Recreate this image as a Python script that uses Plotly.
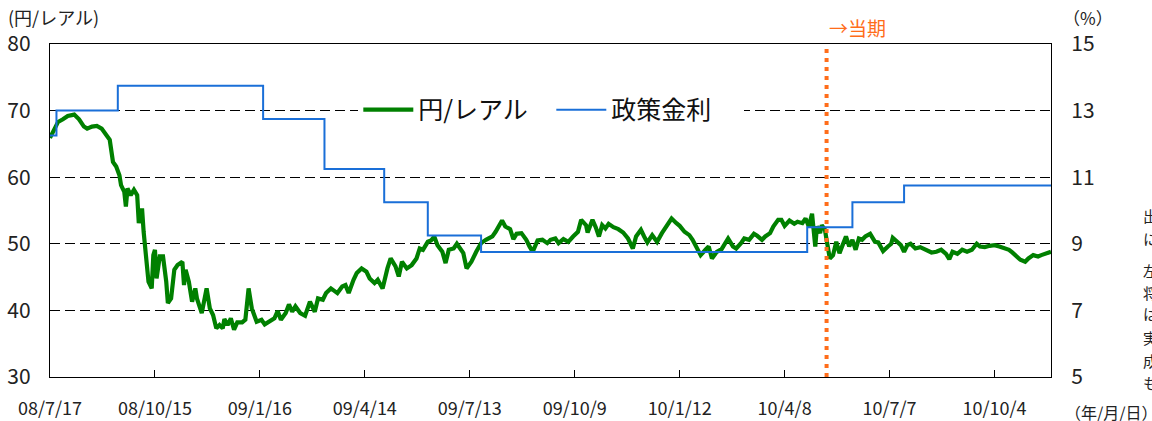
import plotly.graph_objects as go

# --- data (x = business-day index from 2008/7/17) ---
day_index = [0, 2, 5, 8, 11, 15, 18, 21, 23, 26, 29, 32, 35, 37, 39, 41, 43, 44, 46, 47, 48, 50, 52, 54, 55, 57, 58, 59,
             61, 63, 64, 65, 66, 68, 70, 72, 73, 75, 77, 79, 82, 83, 84, 86, 88, 90, 91, 94, 96, 97, 99, 101, 103, 105,
             107, 108, 110, 112, 114, 116, 119, 121, 123, 125, 128, 131, 133, 136, 139, 141, 143, 146, 148, 150, 152,
             155, 158, 161, 164, 166, 169, 171, 174, 178, 181, 183, 185, 188, 190, 193, 196, 198, 201, 203, 206, 209,
             211, 214, 216, 218, 221, 224, 227, 229, 231, 234, 236, 238, 240, 243, 245, 247, 250, 252, 254, 256, 258,
             261, 264, 267, 270, 274, 276, 278, 280, 282, 285, 287, 289, 292, 295, 297, 299, 302, 305, 308, 310, 313,
             315, 318, 321, 324, 327, 329, 332, 333, 336, 338, 340, 342, 344, 346, 349, 352, 355, 358, 361, 363, 366,
             368, 370, 373, 376, 379, 382, 385, 388, 390, 393, 396, 398, 401, 403, 406, 408, 410, 413, 416, 418, 420,
             423, 425, 428, 430, 433, 436, 438, 441, 443, 446, 448, 451, 453, 455, 458, 461, 463, 466, 468, 470, 472,
             474, 475, 477, 478, 480, 481, 483, 485, 487, 489, 491, 493, 495, 497, 499, 501, 503, 505, 508, 511, 513,
             516, 519, 521, 522, 525, 527, 529, 531, 533, 536, 539, 543, 546, 549, 552, 555, 557, 559, 562, 565, 568,
             571, 574, 576, 579, 582, 585, 588, 591, 594, 596, 599, 601, 604, 606, 609, 612, 614, 617, 620]
yen_per_real = [65.9, 66.8, 68.3, 68.7, 69.2, 69.4, 68.7, 67.6, 67.3, 67.6, 67.7, 67.3, 66.3, 65.6, 62.3, 61.6, 60.3,
                58.8, 57.8, 55.6, 58.3, 57.3, 58.1, 57.3, 53.1, 55.3, 51.8, 48.8, 44.3, 43.3, 48.3, 49.1, 44.8, 48.1,
                48.1, 44.3, 41.1, 41.8, 46.1, 46.8, 47.3, 43.8, 46.1, 44.3, 41.3, 43.3, 41.8, 39.6, 41.8, 43.3, 40.3,
                39.3, 37.3, 37.8, 37.3, 38.7, 37.8, 38.8, 37.1, 38.2, 38.2, 38.6, 43.3, 40.3, 38.3, 38.6, 37.9, 38.4,
                38.8, 39.9, 38.6, 39.6, 40.9, 39.8, 40.6, 39.6, 39.2, 41.3, 39.8, 41.8, 41.6, 42.6, 43.3, 42.6, 43.6,
                43.8, 42.6, 44.6, 45.6, 46.3, 45.8, 44.8, 44.1, 44.6, 43.3, 46.3, 47.8, 46.6, 45.1, 47.3, 46.3, 46.8,
                47.8, 49.3, 49.1, 50.3, 50.5, 51.1, 49.8, 48.8, 47.1, 49.1, 49.3, 50.0, 49.3, 48.6, 46.3, 47.3, 48.8,
                50.1, 50.6, 51.1, 51.8, 52.6, 53.5, 52.6, 52.2, 50.7, 51.5, 51.6, 50.6, 49.6, 48.8, 50.5, 50.6, 50.1,
                50.6, 50.8, 50.1, 50.7, 50.3, 51.1, 51.8, 53.6, 52.8, 51.7, 53.6, 52.5, 51.1, 52.8, 52.3, 53.0, 52.5,
                52.2, 51.7, 50.8, 49.3, 51.1, 52.1, 51.1, 50.2, 51.3, 50.3, 51.6, 52.8, 53.8, 53.1, 52.7, 51.8, 51.3,
                50.6, 49.3, 48.3, 49.1, 49.6, 47.8, 48.8, 49.2, 50.1, 50.8, 49.6, 49.3, 50.1, 50.8, 50.6, 51.5, 51.2,
                50.6, 51.1, 51.6, 52.6, 53.6, 53.6, 52.7, 53.5, 53.0, 53.3, 53.1, 53.8, 52.6, 54.5, 49.6, 52.6, 51.6,
                52.8, 52.1, 50.6, 47.8, 48.3, 50.3, 48.6, 50.1, 51.1, 49.6, 50.6, 49.1, 50.8, 50.6, 51.1, 51.5, 50.3,
                50.2, 48.9, 49.6, 50.0, 50.9, 50.1, 49.8, 48.8, 49.8, 50.0, 49.3, 49.5, 49.0, 48.7, 48.8, 49.1, 48.5,
                47.7, 48.8, 48.5, 49.1, 48.8, 49.1, 50.0, 49.6, 49.5, 49.7, 49.8, 49.6, 49.3, 49.1, 48.7, 48.1, 47.6,
                47.3, 47.8, 48.3, 48.1, 48.3, 48.5, 48.8]

rate_index = [0, 4, 42, 132, 170, 207, 234, 267, 469, 497, 529, 620]
policy_rate = [12.25, 13.00, 13.75, 12.75, 11.25, 10.25, 9.25, 8.75, 9.50, 10.25, 10.75, 10.75]

tick_index = [0, 65, 130, 195, 260, 325, 390, 455, 520, 585]
tick_labels = ["08/7/17", "08/10/15", "09/1/16", "09/4/14", "09/7/13",
               "09/10/9", "10/1/12", "10/4/8", "10/7/7", "10/10/4"]
current_index = 481

FONT = "Noto Sans CJK JP"
GREEN = "#008000"
BLUE = "#1a6fd8"
ORANGE = "#ff6d1a"

fig = go.Figure()
fig.add_trace(go.Scatter(x=day_index, y=yen_per_real, name="円/レアル", mode="lines",
                         line=dict(color=GREEN, width=4.2)))
fig.add_trace(go.Scatter(x=rate_index, y=policy_rate, name="政策金利", mode="lines",
                         line=dict(color=BLUE, width=2, shape="hv"), yaxis="y2"))

fig.add_shape(type="line", xref="x", yref="paper", x0=current_index, x1=current_index, y0=0, y1=1,
              line=dict(color=ORANGE, width=4, dash="4px,5px"))

fig.update_layout(
    width=1152, height=421,
    margin=dict(l=50, r=101, t=44, b=44),
    paper_bgcolor="white", plot_bgcolor="white",
    font=dict(family=FONT, size=18, color="#222222"),
    showlegend=True,
    legend=dict(orientation="h", x=0.308, y=0.802, xanchor="left", yanchor="middle",
                bgcolor="white", font=dict(size=25, color="#111111"), itemwidth=50,
                entrywidth=128),
    xaxis=dict(range=[0, 620], tickvals=tick_index, ticktext=tick_labels,
               ticks="inside", ticklen=7, tickcolor="black", tickwidth=1,
               showgrid=False, zeroline=False, showline=True, linecolor="black", linewidth=1.3,
               mirror=True, ticklabelstandoff=15, automargin=False, tickfont=dict(size=18)),
    yaxis=dict(range=[30, 80], tickvals=[30, 40, 50, 60, 70, 80], showgrid=True,
               gridcolor="black", gridwidth=1, griddash="10px,5px", zeroline=False,
               showline=True, linecolor="black", linewidth=1.3, ticks="", ticklabelstandoff=14,
               automargin=False, tickfont=dict(size=21)),
    yaxis2=dict(range=[5, 15], tickvals=[5, 7, 9, 11, 13, 15], overlaying="y", side="right",
                showgrid=False, zeroline=False, showline=True, linecolor="black", linewidth=1.3,
                ticks="", ticklabelstandoff=15, automargin=False, tickfont=dict(size=21)),
)

annos = [
    dict(text="(円/レアル)", x=(6 - 50) / 1001, y=1.081, xanchor="left", yanchor="middle", font=dict(size=18)),
    dict(text="（%）", x=(1061 - 50) / 1001, y=1.081, xanchor="left", yanchor="middle", font=dict(size=17)),
    dict(text="（年/月/日）", x=(1063 - 50) / 1001, y=-0.105, xanchor="left", yanchor="middle",
         font=dict(size=16)),
]
for a in annos:
    fig.add_annotation(xref="paper", yref="paper", showarrow=False, **a)
fig.add_annotation(text="→当期", xref="x", yref="paper", x=current_index, y=1.051,
                   xanchor="left", yanchor="middle", showarrow=False,
                   font=dict(size=19, color=ORANGE))

side_chars = ["出", "に", "左", "将", "は", "実", "成", "も"]
side_y = [215, 238, 270, 292, 313, 337, 360, 382]
for ch, py in zip(side_chars, side_y):
    fig.add_annotation(text=ch, xref="paper", yref="paper", x=(1141 - 50) / 1001, y=(377 - py) / 333,
                       xanchor="left", yanchor="middle", showarrow=False, font=dict(size=15))

fig.write_html("out.html", config={"displayModeBar": False},
               post_script="document.body.style.margin='0';document.body.style.overflow='hidden';")
